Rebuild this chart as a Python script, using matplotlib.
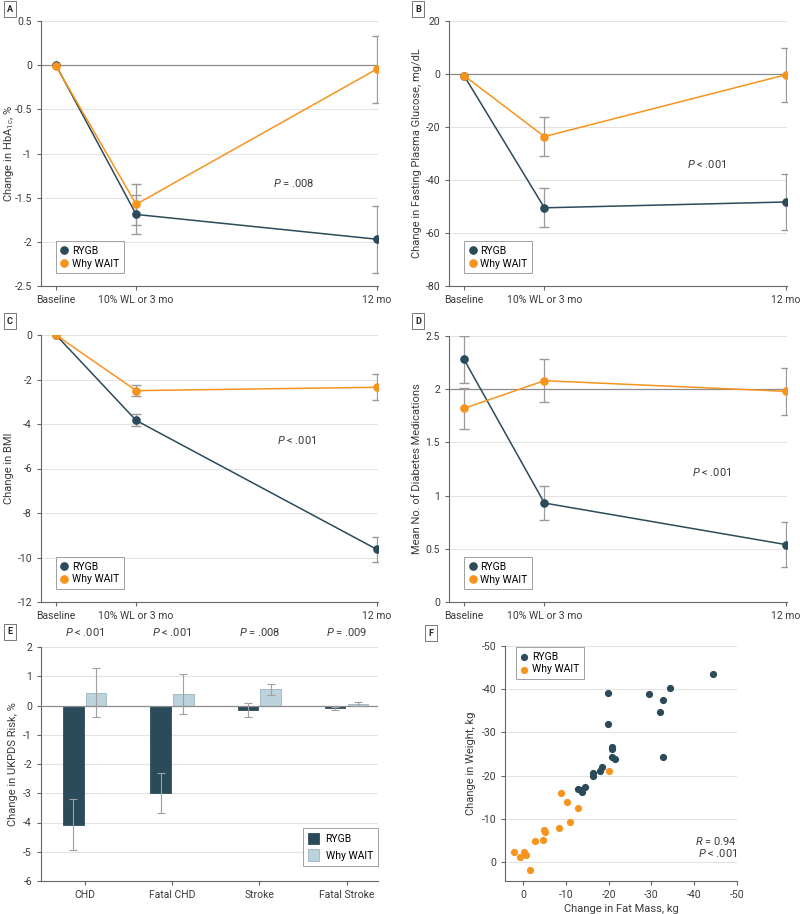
import matplotlib
matplotlib.use("Agg")
import matplotlib.pyplot as plt
import numpy as np

plt.rcParams['font.family'] = ['Roboto', 'DejaVu Sans']
plt.rcParams['axes.unicode_minus'] = False
plt.rcParams['mathtext.fontset'] = 'custom'
plt.rcParams['mathtext.it'] = 'Roboto:italic'
plt.rcParams['mathtext.rm'] = 'Roboto'

# ---- data ----
months = [0, 3, 12]
time_labels = ['Baseline', '10% WL or 3 mo', '12 mo']

# A: HbA1c
a_rygb = [0, -1.69, -1.97]
a_rygb_err = [0, 0.22, 0.38]
a_wait = [-0.01, -1.575, -0.045]
a_wait_err = [0, 0.23, 0.38]

# B: fasting plasma glucose
b_rygb = [-0.6, -50.5, -48.3]
b_rygb_err = [0, 7.3, 10.4]
b_wait = [-0.6, -23.6, -0.3]
b_wait_err = [0, 7.2, 10.1]

# C: BMI
c_rygb = [0, -3.84, -9.63]
c_rygb_err = [0, 0.27, 0.56]
c_wait = [0, -2.5, -2.35]
c_wait_err = [0, 0.26, 0.58]

# D: diabetes medications
d_rygb = [2.28, 0.93, 0.54]
d_rygb_err = [0.22, 0.16, 0.21]
d_wait = [1.82, 2.08, 1.98]
d_wait_err = [0.19, 0.2, 0.22]

# E: UKPDS risk
risk_cats = ['CHD', 'Fatal CHD', 'Stroke', 'Fatal Stroke']
risk_p = [r'$P$ < .001', r'$P$ < .001', r'$P$ = .008', r'$P$ = .009']
e_rygb = [-4.07, -2.99, -0.16, -0.10]
e_rygb_err = [0.86, 0.68, 0.25, 0.04]
e_wait = [0.44, 0.40, 0.56, 0.05]
e_wait_err = [0.85, 0.68, 0.19, 0.07]

# F: change in fat mass vs change in weight
f_rygb_x = [-44.5, -34.4, -29.5, -32.7, -32.0, -32.7, -19.8, -19.9, -20.9, -20.7,
            -20.9, -21.5, -18.5, -18.1, -16.4, -16.3, -14.5, -13.5, -12.9, -13.8]
f_rygb_y = [-43.5, -40.3, -38.8, -37.5, -34.7, -24.4, -39.1, -32.0, -26.7, -26.1,
            -24.3, -23.9, -22.1, -21.1, -20.6, -20.0, -17.4, -16.7, -16.9, -16.3]
f_wait_x = [-20.0, -8.9, -10.3, -12.9, -11.1, -8.3, -4.8, -5.2, -4.7, -2.9,
            2.1, -0.2, -0.6, 0.6, -1.7]
f_wait_y = [-21.1, -16.0, -13.9, -12.6, -9.3, -7.8, -7.5, -6.9, -5.2, -4.9,
            -2.3, -2.3, -1.6, -1.2, 1.8]

TEAL = '#2b4a5a'
ORANGE = '#f7941d'
LIGHT = '#bcd2dc'
GRID = '#e3e3e3'
REF = '#8c8c8c'
TXT = '#3a3a3a'
FS = 7.5

fig = plt.figure(figsize=(8, 9.14), dpi=100)
W, H = 800, 914


def add_ax(left, right, top, bottom):
    return fig.add_axes([left / W, 1 - bottom / H, (right - left) / W, (bottom - top) / H])


def style(ax):
    for s in ['top', 'right']:
        ax.spines[s].set_visible(False)
    for s in ['left', 'bottom']:
        ax.spines[s].set_color('#666666')
        ax.spines[s].set_linewidth(0.8)
    ax.tick_params(labelsize=FS, colors='#666666', labelcolor=TXT, length=3, width=0.8)


def put_ylabel(ax, text, xfrac):
    ax.set_ylabel(text, fontsize=FS + 0.5, color=TXT)
    ax.yaxis.set_label_coords(xfrac, 0.5)
    ax.yaxis.label.set_va('center')


def panel_letter(x, y, letter):
    fig.text(x / W, 1 - y / H, letter, fontsize=6.5, fontweight='bold', color='#222222',
             ha='center', va='center',
             bbox=dict(boxstyle='square,pad=0.35', fc='white', ec='#777777', lw=0.7))


def line_panel(ax, rygb, rygb_err, wait, wait_err, ylim, yticks, ref, ylabel, ptext, ppos):
    style(ax)
    for t in yticks:
        if t == ref:
            ax.axhline(t, color=REF, lw=0.9, zorder=1)
        elif t != ylim[0]:
            ax.axhline(t, color=GRID, lw=0.8, zorder=0)
    for vals, errs, col in [(wait, wait_err, ORANGE), (rygb, rygb_err, TEAL)]:
        idx = [i for i, e in enumerate(errs) if e > 0]
        eb = ax.errorbar([months[i] for i in idx], [vals[i] for i in idx],
                         yerr=[errs[i] for i in idx], fmt='none', ecolor='#9a9a9a',
                         elinewidth=0.9, capsize=3.5, capthick=1.0, zorder=2)
        for cl in eb[1]:
            cl.set_color(col)
    ax.plot(months, rygb, color=TEAL, lw=1.1, marker='o', ms=5.2, zorder=4, label='RYGB')
    ax.plot(months, wait, color=ORANGE, lw=1.1, marker='o', ms=5.2, zorder=5, label='Why WAIT')
    ax.set_xlim(-0.56, 12.05)
    ax.set_ylim(*ylim)
    ax.set_yticks(yticks)
    ax.set_xticks(months)
    ax.set_xticklabels(time_labels)
    put_ylabel(ax, ylabel, -0.095)
    ax.text(ppos[0], ppos[1], ptext, fontsize=FS + 0.5, color=TXT, ha='center', va='center')
    leg = ax.legend(loc='lower left', bbox_to_anchor=(0.045, 0.048), borderaxespad=0,
                    fontsize=FS, frameon=True, fancybox=False, handlelength=0.7,
                    handletextpad=0.4, borderpad=0.45, labelspacing=0.25)
    leg.get_frame().set_edgecolor('#888888')
    leg.get_frame().set_linewidth(0.7)
    for h in leg.legend_handles:
        h.set_linestyle('none')


# A
axA = add_ax(41, 378, 21, 286)
line_panel(axA, a_rygb, a_rygb_err, a_wait, a_wait_err, (-2.5, 0.5),
           [-2.5, -2, -1.5, -1, -0.5, 0, 0.5], 0, 'Change in HbA$_{1c}$, %',
           r'$P$ = .008', (8.9, -1.33))
axA.set_yticklabels(['-2.5', '-2', '-1.5', '-1', '-0.5', '0', '0.5'])
panel_letter(10, 9, 'A')

# B
axB = add_ax(449, 787, 21, 286)
line_panel(axB, b_rygb, b_rygb_err, b_wait, b_wait_err, (-80, 20),
           [-80, -60, -40, -20, 0, 20], 0, 'Change in Fasting Plasma Glucose, mg/dL',
           r'$P$ < .001', (9.07, -34))
panel_letter(418, 9, 'B')

# C
axC = add_ax(41, 378, 335, 602)
line_panel(axC, c_rygb, c_rygb_err, c_wait, c_wait_err, (-12, 0),
           [-12, -10, -8, -6, -4, -2, 0], None, 'Change in BMI',
           r'$P$ < .001', (9.0, -4.72))
panel_letter(10, 321, 'C')

# D
axD = add_ax(449, 787, 336, 602)
line_panel(axD, d_rygb, d_rygb_err, d_wait, d_wait_err, (0, 2.5),
           [0, 0.5, 1, 1.5, 2, 2.5], 2, 'Mean No. of Diabetes Medications',
           r'$P$ < .001', (9.25, 1.22))
axD.set_yticklabels(['0', '0.5', '1', '1.5', '2', '2.5'])
panel_letter(418, 321, 'D')

# E
axE = add_ax(41, 378, 647, 881)
style(axE)
for t in [-5, -4, -3, -2, -1, 1, 2]:
    axE.axhline(t, color=GRID, lw=0.8, zorder=0)
axE.axhline(0, color=REF, lw=0.9, zorder=3)
xe = np.arange(len(risk_cats))
bw = 0.235
axE.bar(xe - 0.13, e_rygb, bw, color=TEAL, edgecolor='#1e3a47', lw=0.5, zorder=2, label='RYGB')
axE.bar(xe + 0.13, e_wait, bw, color=LIGHT, edgecolor='#8fa9b5', lw=0.5, zorder=2, label='Why WAIT')
axE.errorbar(xe - 0.13, e_rygb, yerr=e_rygb_err, fmt='none', ecolor='#a0a0a0',
             elinewidth=0.8, capsize=3, capthick=0.8, zorder=4)
axE.errorbar(xe + 0.13, e_wait, yerr=e_wait_err, fmt='none', ecolor='#a0a0a0',
             elinewidth=0.8, capsize=3, capthick=0.8, zorder=4)
axE.set_xlim(-0.5, 3.36)
axE.set_ylim(-6, 2)
axE.set_yticks(range(-6, 3))
axE.set_xticks(xe)
axE.set_xticklabels(risk_cats)
put_ylabel(axE, 'Change in UKPDS Risk, %', -0.083)
for i, p in enumerate(risk_p):
    axE.text(xe[i], 2.52, p, fontsize=FS + 0.5, color=TXT, ha='center', va='center')
legE = axE.legend(loc='lower right', bbox_to_anchor=(1.0, 0.064), borderaxespad=0,
                  fontsize=FS, fancybox=False, handlelength=1.1, handleheight=1.3,
                  handletextpad=0.6, borderpad=0.5, labelspacing=0.5)
legE.get_frame().set_edgecolor('#888888')
legE.get_frame().set_linewidth(0.7)
panel_letter(10, 632, 'E')

# F
axF = add_ax(505, 737, 646, 881)
style(axF)
for t in [-50, -40, -30, -20, -10, 0]:
    axF.axhline(t, color=GRID, lw=0.8, zorder=0)
axF.scatter(f_rygb_x, f_rygb_y, s=27, color=TEAL, zorder=3, label='RYGB', lw=0)
axF.scatter(f_wait_x, f_wait_y, s=27, color=ORANGE, zorder=3, label='Why WAIT', lw=0)
axF.set_xlim(4.2, -50)
axF.set_ylim(4.4, -50)
axF.set_xticks([0, -10, -20, -30, -40, -50])
axF.set_yticks([0, -10, -20, -30, -40, -50])
axF.set_xlabel('Change in Fat Mass, kg', fontsize=FS + 0.5, color=TXT, labelpad=3)
put_ylabel(axF, 'Change in Weight, kg', -0.147)
axF.text(-50, -4.8, r'$R$ = 0.94', fontsize=FS + 0.5, color=TXT, ha='right', va='center')
axF.text(-50, -2.0, r'$P$ < .001', fontsize=FS + 0.5, color=TXT, ha='right', va='center')
legF = axF.legend(loc='upper left', bbox_to_anchor=(0.047, 0.995), borderaxespad=0,
                  fontsize=FS, fancybox=False, handlelength=0.7, handletextpad=0.4,
                  borderpad=0.45, labelspacing=0.25)
legF.get_frame().set_edgecolor('#888888')
legF.get_frame().set_linewidth(0.7)
panel_letter(431, 633, 'F')

fig.savefig('out.png', dpi=100)
